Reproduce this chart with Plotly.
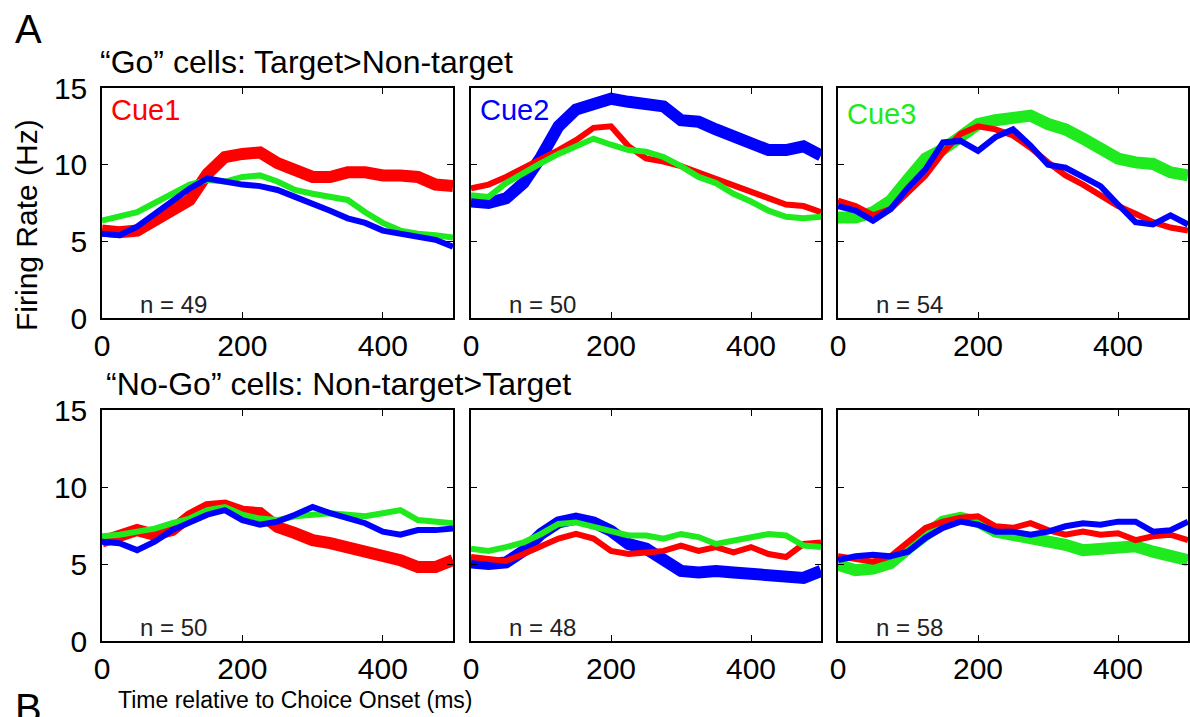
import plotly.graph_objects as go

W, H = 1190, 717

time_ms = [0, 25, 50, 75, 100, 125, 150, 175, 200, 225, 250, 275, 300, 325, 350, 375, 400, 425, 450, 475, 500]

# "Go" cells (top row)
go_cue1_red = [5.7, 5.6, 5.7, 6.3, 7.0, 7.7, 9.4, 10.5, 10.7, 10.8, 10.1, 9.75, 9.2, 9.2, 9.5, 9.5, 9.3, 9.3, 9.2, 8.7, 8.6]
go_cue1_green = [6.35, 6.6, 6.9, 7.5, 8.1, 8.7, 9.0, 8.9, 9.2, 9.3, 8.9, 8.35, 8.1, 7.9, 7.7, 6.9, 6.2, 5.7, 5.5, 5.4, 5.25]
go_cue1_blue = [5.5, 5.4, 5.95, 6.8, 7.7, 8.45, 9.1, 8.9, 8.7, 8.6, 8.35, 7.9, 7.5, 7.0, 6.5, 6.2, 5.7, 5.5, 5.3, 5.1, 4.65]

go_cue2_red = [8.45, 8.7, 9.2, 9.75, 10.4, 10.95, 11.6, 12.4, 12.5, 11.2, 10.4, 10.2, 9.9, 9.5, 9.0, 8.6, 8.2, 7.8, 7.4, 7.3, 6.9]
go_cue2_green = [8.0, 7.9, 8.8, 9.5, 10.1, 10.7, 11.2, 11.7, 11.3, 10.95, 10.85, 10.5, 9.9, 9.2, 8.8, 8.1, 7.6, 7.0, 6.6, 6.5, 6.6]
go_cue2_blue = [7.6, 7.5, 7.8, 8.8, 10.5, 12.5, 13.6, 14.0, 14.3, 14.1, 13.9, 13.8, 12.9, 12.8, 12.3, 11.8, 11.3, 10.95, 10.95, 11.2, 10.6]

go_cue3_red = [7.65, 7.3, 6.7, 7.1, 8.2, 9.3, 10.8, 12.0, 12.5, 12.3, 11.9, 11.1, 10.15, 9.3, 8.7, 8.0, 7.3, 6.8, 6.25, 5.9, 5.7]
go_cue3_green = [6.55, 6.55, 6.9, 7.65, 9.05, 10.4, 11.0, 11.8, 12.65, 12.9, 13.1, 13.2, 12.65, 12.3, 11.7, 11.0, 10.4, 10.15, 10.05, 9.5, 9.3]
go_cue3_blue = [7.3, 7.0, 6.35, 7.1, 8.5, 9.7, 11.45, 11.55, 10.9, 11.8, 12.3, 11.25, 10.0, 9.8, 9.2, 8.6, 7.4, 6.25, 6.1, 6.7, 6.1]

# "No-Go" cells (bottom row)
nogo_cue1_red = [6.45, 6.8, 7.2, 6.9, 7.2, 8.1, 8.7, 8.8, 8.4, 8.3, 7.4, 7.0, 6.55, 6.35, 6.1, 5.8, 5.5, 5.25, 4.8, 4.8, 5.25]
nogo_cue1_green = [6.8, 6.9, 7.1, 7.3, 7.65, 7.95, 8.5, 8.7, 8.2, 7.95, 7.85, 8.1, 8.2, 8.3, 8.2, 8.1, 8.3, 8.5, 7.85, 7.75, 7.65]
nogo_cue1_blue = [6.45, 6.35, 5.9, 6.45, 7.2, 7.65, 8.2, 8.5, 7.85, 7.55, 7.75, 8.2, 8.7, 8.3, 7.95, 7.65, 7.1, 6.9, 7.2, 7.2, 7.3]

nogo_cue2_red = [5.45, 5.35, 5.2, 5.65, 6.2, 6.65, 6.95, 6.65, 5.85, 5.65, 5.75, 5.85, 6.2, 5.85, 6.1, 5.75, 6.1, 5.65, 5.45, 6.3, 6.4]
nogo_cue2_green = [6.0, 5.85, 6.1, 6.4, 6.95, 7.6, 7.7, 7.4, 7.15, 6.85, 6.85, 6.65, 6.95, 6.75, 6.3, 6.5, 6.75, 6.95, 6.85, 6.2, 6.1]
nogo_cue2_blue = [5.1, 5.0, 5.1, 5.85, 6.95, 7.7, 7.95, 7.7, 7.15, 6.3, 6.0, 5.2, 4.55, 4.45, 4.55, 4.45, 4.35, 4.25, 4.25, 4.1, 4.55]

nogo_cue3_red = [5.5, 5.35, 5.15, 5.5, 6.45, 7.35, 7.75, 8.0, 8.1, 7.45, 7.35, 7.65, 7.2, 6.9, 7.1, 6.9, 7.0, 6.55, 6.8, 6.9, 6.55]
nogo_cue3_green = [4.95, 4.6, 4.7, 5.05, 6.0, 7.0, 7.75, 8.0, 7.75, 7.1, 6.9, 6.55, 6.35, 6.25, 5.9, 6.0, 6.15, 6.15, 5.8, 5.5, 5.25]
nogo_cue3_blue = [5.25, 5.5, 5.6, 5.5, 5.8, 6.7, 7.35, 7.75, 7.55, 7.1, 7.1, 6.9, 7.1, 7.45, 7.65, 7.55, 7.75, 7.75, 7.1, 7.2, 7.75]

n_counts = [49, 50, 54, 50, 48, 58]
cue_labels = ["Cue1", "Cue2", "Cue3"]
x_ticks = [0, 200, 400]
y_ticks = [0, 5, 10, 15]

RED, GREEN, BLUE = "#ff0000", "#1eea1e", "#0000ff"
FONT = "Liberation Sans, Arial, sans-serif"

panels = [
    {"red": go_cue1_red, "green": go_cue1_green, "blue": go_cue1_blue, "thick": "red"},
    {"red": go_cue2_red, "green": go_cue2_green, "blue": go_cue2_blue, "thick": "blue"},
    {"red": go_cue3_red, "green": go_cue3_green, "blue": go_cue3_blue, "thick": "green"},
    {"red": nogo_cue1_red, "green": nogo_cue1_green, "blue": nogo_cue1_blue, "thick": "red"},
    {"red": nogo_cue2_red, "green": nogo_cue2_green, "blue": nogo_cue2_blue, "thick": "blue"},
    {"red": nogo_cue3_red, "green": nogo_cue3_green, "blue": nogo_cue3_blue, "thick": "green"},
]
colors = {"red": RED, "green": GREEN, "blue": BLUE}

col_px = [(102, 453), (471, 821), (838, 1188)]
row_px = [(88, 318), (410, 641)]


def px_x(p):
    return p / W


def px_y(p):
    return 1 - p / H


fig = go.Figure()
layout_axes = {}
for i, pan in enumerate(panels):
    r, c = divmod(i, 3)
    k = "" if i == 0 else str(i + 1)
    order = [pan["thick"]] + [s for s in ("red", "green", "blue") if s != pan["thick"]]
    for s in order:
        fig.add_trace(go.Scatter(
            x=time_ms, y=pan[s], mode="lines",
            line=dict(color=colors[s], width=12 if s == pan["thick"] else 6),
            xaxis="x" + k, yaxis="y" + k, showlegend=False, hoverinfo="skip"))
    x0, x1 = col_px[c]
    y0, y1 = row_px[r]
    layout_axes["xaxis" + k] = dict(
        domain=[px_x(x0), px_x(x1)], anchor="y" + k, range=[0, 500],
        tickvals=x_ticks, ticks="inside", ticklen=6, tickcolor="black",
        showline=True, linecolor="black", linewidth=1.5, mirror="ticks",
        showgrid=False, zeroline=False, automargin=False,
        tickfont=dict(family=FONT, size=30, color="black"))
    layout_axes["yaxis" + k] = dict(
        domain=[px_y(y1), px_y(y0)], anchor="x" + k, range=[0, 15],
        tickvals=y_ticks, ticks="inside", ticklen=6, tickcolor="black",
        showline=True, linecolor="black", linewidth=1.5, mirror="ticks",
        showgrid=False, zeroline=False, showticklabels=(c == 0),
        ticklabelstandoff=7, automargin=False,
        tickfont=dict(family=FONT, size=30, color="black"))

annotations = []
for i, n in enumerate(n_counts):
    k = "" if i == 0 else str(i + 1)
    annotations.append(dict(
        x=51, y=0.9, xref="x" + k, yref="y" + k, text=f"n = {n}",
        showarrow=False, xanchor="left", yanchor="middle",
        font=dict(family=FONT, size=24, color="#222222")))
for c, lab in enumerate(cue_labels):
    k = "" if c == 0 else str(c + 1)
    annotations.append(dict(
        x=10, y=13.55 if c < 2 else 13.3, xref="x" + k, yref="y" + k, text=lab,
        showarrow=False, xanchor="left", yanchor="middle",
        font=dict(family=FONT, size=29, color=[RED, BLUE, GREEN][c])))

annotations += [
    dict(x=px_x(28), y=px_y(29), xref="paper", yref="paper", text="A", showarrow=False,
         xanchor="center", yanchor="middle", font=dict(family=FONT, size=40, color="black")),
    dict(x=px_x(28), y=px_y(708), xref="paper", yref="paper", text="B", showarrow=False,
         xanchor="center", yanchor="middle", font=dict(family=FONT, size=40, color="black")),
    dict(x=px_x(98), y=px_y(62), xref="paper", yref="paper",
         text="\u201cGo\u201d cells: Target>Non-target", showarrow=False,
         xanchor="left", yanchor="middle", font=dict(family=FONT, size=32, color="black")),
    dict(x=px_x(104), y=px_y(384), xref="paper", yref="paper",
         text="\u201cNo-Go\u201d cells: Non-target>Target", showarrow=False,
         xanchor="left", yanchor="middle", font=dict(family=FONT, size=32, color="black")),
    dict(x=px_x(116), y=px_y(700), xref="paper", yref="paper",
         text="Time relative to Choice Onset (ms)", showarrow=False,
         xanchor="left", yanchor="middle", font=dict(family=FONT, size=23, color="black")),
    dict(x=px_x(26), y=px_y(225), xref="paper", yref="paper",
         text="Firing Rate (Hz)", showarrow=False, textangle=-90,
         xanchor="center", yanchor="middle", font=dict(family=FONT, size=30, color="black")),
]

fig.update_layout(
    template="none",
    width=W, height=H, margin=dict(l=0, r=0, t=0, b=0, autoexpand=False),
    paper_bgcolor="white", plot_bgcolor="white",
    annotations=annotations, **layout_axes)

fig.write_html("out.html", config={"displayModeBar": False},
               post_script="document.body.style.margin='0px';document.body.style.overflow='hidden';")
